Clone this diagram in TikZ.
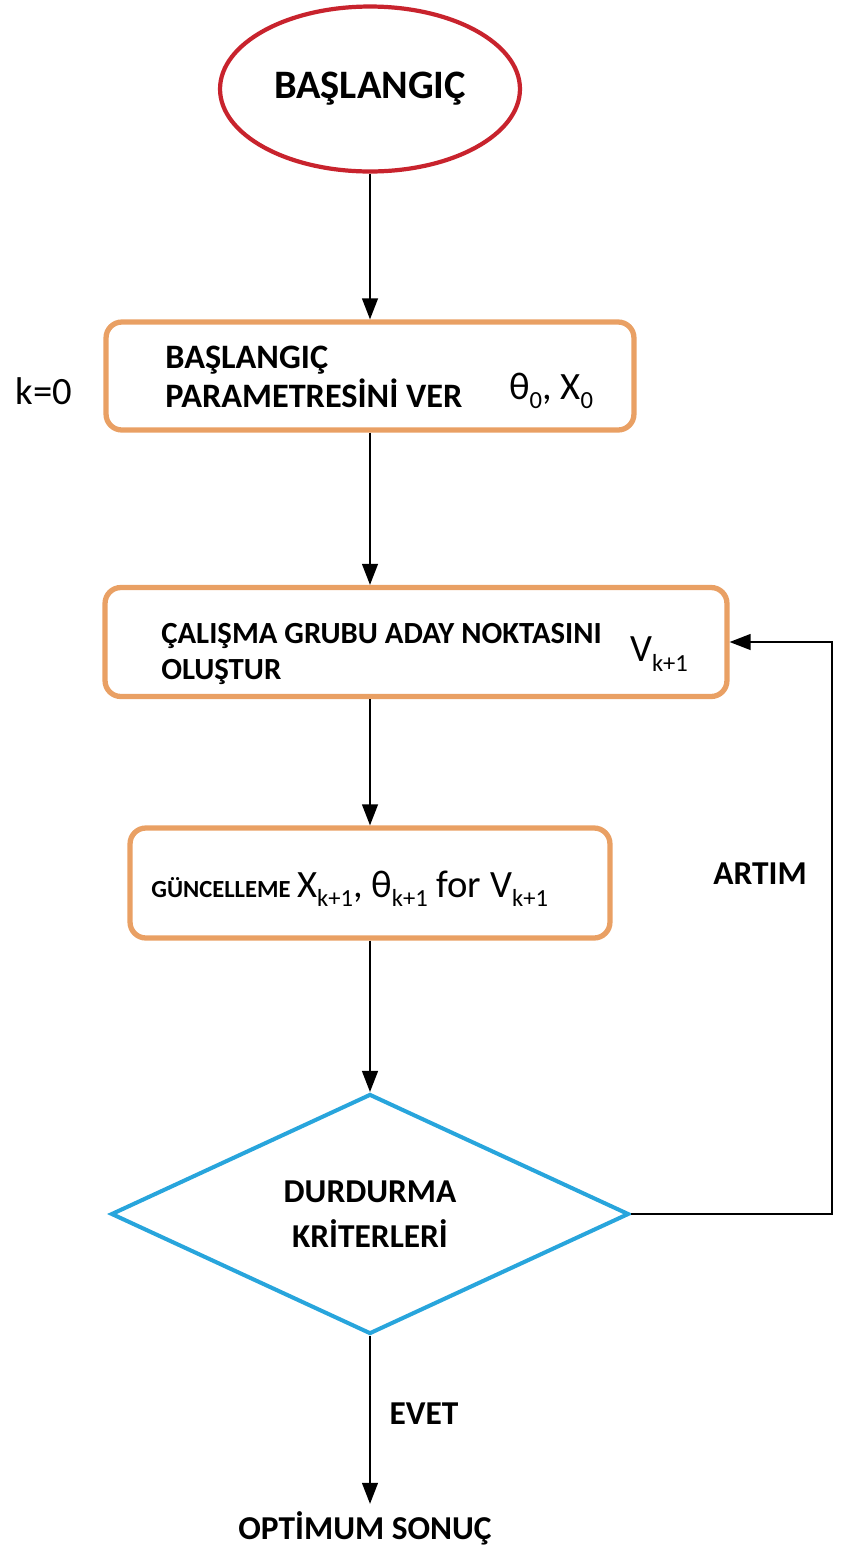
\documentclass[tikz,border=0pt]{standalone}
\usepackage{fontspec}
\setmainfont{Carlito}
\usepackage{xcolor}
\usetikzlibrary{shapes.geometric,arrows.meta,positioning,calc}

\definecolor{startred}{RGB}{200,35,45}
\definecolor{boxorange}{RGB}{233,160,100}
\definecolor{condblue}{RGB}{40,165,220}

% lowered index, set in a smaller size
\newcommand{\idx}[1]{\raisebox{-0.5ex}{\fontsize{14}{14}\selectfont #1}}

\begin{document}
\begin{tikzpicture}[x=0.02cm,y=-0.02cm,
  startnode/.style={ellipse,draw=startred,line width=2.4pt,minimum width=6cm,
    minimum height=3.3cm,inner sep=0pt,font=\fontsize{23}{27}\selectfont\bfseries},
  procbox/.style={rectangle,rounded corners=9pt,draw=boxorange,line width=3pt,inner sep=0pt},
  condnode/.style={diamond,draw=condblue,line width=2.3pt,minimum width=10.36cm,
    minimum height=4.44cm,inner sep=0pt,align=center,font=\fontsize{19}{26}\selectfont\bfseries},
  capslabel/.style={font=\fontsize{19}{22}\selectfont\bfseries,align=left,inner sep=0pt},
  symlabel/.style={font=\fontsize{22}{26}\selectfont,inner sep=0pt},
  arr/.style={-{Triangle[length=12pt,width=9pt]},line width=1.1pt}]
  \useasboundingbox (0,0) rectangle (840,1546);

  \node[startnode] (start) at (370,89) {BAŞLANGIÇ};

  \node[procbox,minimum width=10.56cm,minimum height=2.16cm] (init) at (370,376) {};
  \node[capslabel,font=\fontsize{19.5}{22}\selectfont\bfseries,anchor=west] (inittxt) at (165,377) {BAŞLANGIÇ\\PARAMETRESİNİ VER};
  \node[symlabel] (initsym) at (551,391) {θ\idx{0}, X\idx{0}};
  \node[symlabel] (kzero) at (44,391) {k=0};

  \node[procbox,minimum width=12.44cm,minimum height=2.18cm] (cand) at (416,642) {};
  \node[capslabel,font=\fontsize{17.5}{21}\selectfont\bfseries,anchor=west] (candtxt) at (161,654) {ÇALIŞMA GRUBU ADAY NOKTASINI\\OLUŞTUR};
  \node[symlabel] (candsym) at (659,654) {V\idx{k+1}};

  \node[procbox,minimum width=9.6cm,minimum height=2.2cm] (upd) at (370,883) {};
  \node[symlabel,anchor=west] (updtxt) at (151,889)
    {{\fontsize{14}{14}\selectfont\bfseries GÜNCELLEME}\,X\idx{k+1}, θ\idx{k+1} for V\idx{k+1}};

  \node[condnode] (stop) at (370,1214) {DURDURMA\\KRİTERLERİ};

  \node[capslabel] (inc) at (760,874) {ARTIM};
  \node[capslabel] (yes) at (424,1414) {EVET};
  \node[capslabel,inner sep=4pt] (result) at (365,1528) {OPTİMUM SONUÇ};
  \coordinate (loop) at (832,1214);

  \draw[arr] (start.south) -- (init.north);
  \draw[arr] (init.south) -- (init.south |- cand.north);
  \draw[arr] (init.south |- cand.south) -- (upd.north);
  \draw[arr] (upd.south) -- (stop.north);
  \draw[arr] (stop.south) -- (stop.south |- result.north);
  \draw[arr] (stop.east) -- (loop) |- (cand.east);
\end{tikzpicture}
\end{document}
